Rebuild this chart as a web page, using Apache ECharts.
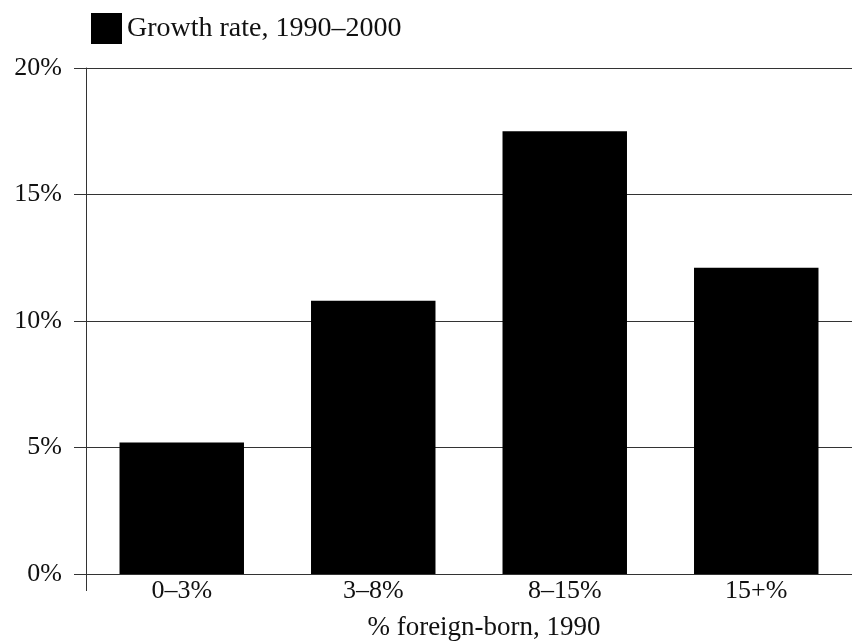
<!DOCTYPE html>
<html>
<head>
<meta charset="utf-8">
<script src="https://cdn.jsdelivr.net/npm/echarts@6/dist/echarts.min.js"></script>
<style>
  html, body { margin: 0; padding: 0; background: #fff; }
  #chart { width: 852px; height: 641px; }
</style>
</head>
<body>
<div id="chart"></div>
<script>
// data
const categories = ['0–3%', '3–8%', '8–15%', '15+%'];
const growthRate = [5.2, 10.8, 17.5, 12.1];
const seriesName = 'Growth rate, 1990–2000';
const xAxisName = '% foreign-born, 1990';
const yMin = 0, yMax = 20, yStep = 5;

const font = "'Liberation Serif', 'Times New Roman', serif";
const lineColor = '#333';
const textColor = '#111';

const chart = echarts.init(document.getElementById('chart'));

// grid 0 carries the labels and the gridlines (they stick out 12px left of the axis),
// grid 1 carries the bars, the category axis and the vertical axis line
const option = {
    animation: false,
    backgroundColor: '#fff',
    textStyle: { fontFamily: font, color: textColor },
    legend: {
        left: 86,
        top: 8,
        itemWidth: 31,
        itemHeight: 31,
        icon: 'rect',
        textStyle: { fontFamily: font, fontSize: 28, color: textColor },
        data: [seriesName]
    },
    grid: [
        { left: 74, right: 0, top: 68, bottom: 67, containLabel: false, outerBoundsMode: 'none' },
        { left: 86, right: 0, top: 68, bottom: 67, containLabel: false, outerBoundsMode: 'none' }
    ],
    xAxis: [
        { gridIndex: 0, type: 'value', show: false },
        {
            gridIndex: 1,
            type: 'category',
            data: categories,
            boundaryGap: true,
            axisLine: { show: false },
            // only the left-hand tick, which extends the y axis line below zero
            axisTick: {
                show: true,
                length: 17,
                interval: (index) => index === 0,
                lineStyle: { color: lineColor, width: 1 }
            },
            axisLabel: { fontFamily: font, fontSize: 26, color: textColor, margin: 4 },
            name: xAxisName,
            nameLocation: 'middle',
            nameGap: 40,
            nameTextStyle: { fontFamily: font, fontSize: 27, color: textColor, padding: [0, 0, 0, 30] }
        }
    ],
    yAxis: [
        {
            gridIndex: 0,
            type: 'value',
            min: yMin,
            max: yMax,
            interval: yStep,
            axisLine: { show: false },
            axisTick: { show: false },
            axisLabel: {
                fontFamily: font,
                fontSize: 26,
                color: textColor,
                margin: 12,
                formatter: v => v + '%'
            },
            splitLine: { show: true, lineStyle: { color: lineColor, width: 1 } }
        },
        {
            gridIndex: 1,
            type: 'value',
            min: yMin,
            max: yMax,
            interval: yStep,
            axisLine: { show: true, lineStyle: { color: lineColor, width: 1 } },
            axisTick: { show: false },
            axisLabel: { show: false },
            splitLine: { show: false }
        }
    ],
    series: [{
        name: seriesName,
        type: 'bar',
        xAxisIndex: 1,
        yAxisIndex: 1,
        data: growthRate,
        barWidth: '65%',
        itemStyle: { color: '#000' }
    }]
};

chart.setOption(option);
</script>
</body>
</html>
